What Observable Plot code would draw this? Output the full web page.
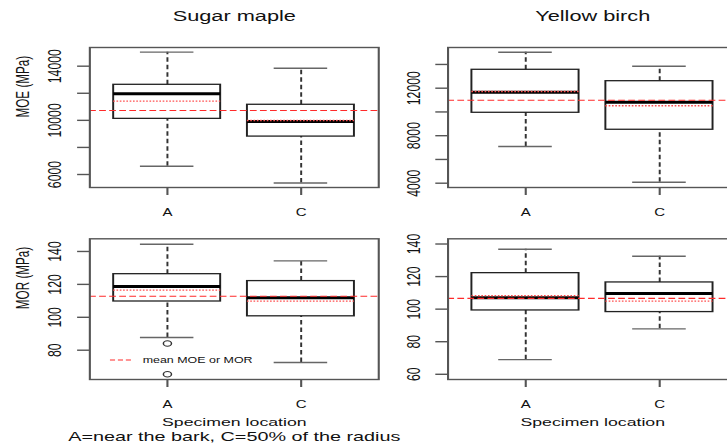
<!DOCTYPE html>
<html><head><meta charset="utf-8">
<script src="https://cdn.jsdelivr.net/npm/d3@7"></script>
<script src="https://cdn.jsdelivr.net/npm/@observablehq/plot@0.6"></script>
<style>
html,body{margin:0;padding:0;background:#fff;overflow:hidden;width:727px;height:446px;}
#stage{position:relative;width:500px;height:446px;transform:scaleX(1.5);transform-origin:0 0;}
#stage svg{position:absolute;left:0;top:0;}
</style></head><body><div id="stage"></div>
<script>
const categories = ["A", "C"];
const species = ["Sugar maple", "Yellow birch"];
const properties = ["MOE (MPa)", "MOR (MPa)"];
const xAxisTitle = "Specimen location";
const captionText = "A=near the bark, C=50% of the radius";
const legendText = "mean MOE or MOR";

// boxes per location: [lower whisker, Q1, median, Q3, upper whisker]
const moeMapleBoxes = [[6610, 10110, 11960, 12625, 15035], [5370, 8800, 9910, 11150, 13850]];
const moeMapleMeans = [11415, 9990];
const moeMapleGrandMean = 10728;
const moeMapleOutliers = [[], []];

const moeBirchBoxes = [[7090, 9930, 11660, 13550, 15030], [4080, 8500, 10820, 12590, 13850]];
const moeBirchMeans = [11720, 10520];
const moeBirchGrandMean = 10990;
const moeBirchOutliers = [[], []];

const morMapleBoxes = [[87.7, 109.6, 118.7, 126.2, 144.4], [72.5, 100.6, 111.9, 122.0, 134.3]];
const morMapleMeans = [116.5, 109.8];
const morMapleGrandMean = 112.8;
const morMapleOutliers = [[84.1, 65.4], []];

const morBirchBoxes = [[69.0, 99.2, 107.0, 122.1, 136.8], [87.9, 98.2, 109.6, 116.4, 132.5]];
const morBirchMeans = [108.3, 104.9];
const morBirchGrandMean = 106.6;
const morBirchOutliers = [[], []];

// axis limits and ticks
const moeMapleLimits = [5040, 15380];
const moeMapleTicks = [6000, 8000, 10000, 12000, 14000];
const moeMapleTickLabels = [6000, 10000, 14000];
const moeBirchLimits = [3638, 15427];
const moeBirchTicks = [4000, 6000, 8000, 10000, 12000, 14000];
const moeBirchTickLabels = [4000, 8000, 12000];
const morMapleLimits = [62.2, 147.7];
const morMapleTicks = [80, 100, 120, 140];
const morMapleTickLabels = [80, 100, 120, 140];
const morBirchLimits = [56.8, 143.2];
const morBirchTicks = [60, 80, 100, 120, 140];
const morBirchTickLabels = [60, 80, 100, 120, 140];

const W = 500, H = 446;
const FONT = "'Liberation Sans', Arial, Helvetica, sans-serif";
const n = categories.length;
const xDomain = [0.5 - 0.04 * n, n + 0.5 + 0.04 * n];

function panel(o) {
  const rows = categories.map((c, k) => {
    const b = o.boxes[k];
    return {pos: k + 1, lo: b[0], q1: b[1], med: b[2], q3: b[3], hi: b[4], mean: o.means[k]};
  });
  const outs = o.outliers.flatMap((arr, k) => arr.map(v => ({pos: k + 1, v})));
  const half = 0.4, staple = 0.2;
  const marks = [
    Plot.ruleX(rows, {x: "pos", y1: "q3", y2: "hi", stroke: "#333", strokeWidth: 1.3, strokeDasharray: "4.5,3"}),
    Plot.ruleX(rows, {x: "pos", y1: "lo", y2: "q1", stroke: "#333", strokeWidth: 1.3, strokeDasharray: "4.5,3"}),
    Plot.ruleY(rows, {y: "hi", x1: d => d.pos - staple, x2: d => d.pos + staple, stroke: "#666", strokeWidth: 1.4}),
    Plot.ruleY(rows, {y: "lo", x1: d => d.pos - staple, x2: d => d.pos + staple, stroke: "#666", strokeWidth: 1.4}),
    Plot.rect(rows, {x1: d => d.pos - half, x2: d => d.pos + half, y1: "q1", y2: "q3", fill: "none", stroke: "#222", strokeWidth: 1.3}),
    Plot.ruleY(rows, {y: "med", x1: d => d.pos - half, x2: d => d.pos + half, stroke: "#000", strokeWidth: 3}),
    Plot.dot(outs, {x: "pos", y: "v", r: 2.7, stroke: "#333", strokeWidth: 1, fill: "none"}),
    Plot.ruleY([o.grand], {stroke: "#ff2a2a", strokeWidth: 1.1, strokeDasharray: "4.5,2.2"}),
    Plot.ruleY(rows, {y: "mean", x1: d => d.pos - half, x2: d => d.pos + half, stroke: "#ff5050", strokeWidth: 1.3, strokeDasharray: "1.1,1.1"}),
    Plot.frame({stroke: "#555", strokeWidth: 1.4}),
    Plot.axisX({ticks: categories.map((c, k) => k + 1), tickFormat: i => categories[i - 1], tickSize: 8, tickPadding: 13.3,
      fontSize: 10, label: null, stroke: "#555", strokeWidth: 1.4, fill: "#111"}),
    Plot.axisY({ticks: o.ticks, tickFormat: d => o.labels.includes(d) ? String(d) : "", tickSize: 8, tickPadding: 11,
      tickRotate: -90, fontSize: 12.3, label: null, stroke: "#555", strokeWidth: 1.4, fill: "#111"})
  ];
  if (o.title) marks.push(Plot.text([o.title], {frameAnchor: "top", lineAnchor: "bottom", dy: -27, fontSize: 14.5, fill: "#111"}));
  if (o.ylabel) marks.push(Plot.text([o.ylabel], {frameAnchor: "left", rotate: -90, lineAnchor: "bottom", dx: -40.6, fontSize: 11.7, fill: "#111"}));
  if (o.xlabel) marks.push(Plot.text([o.xlabel], {frameAnchor: "bottom", lineAnchor: "bottom", dy: 46.5, fontSize: 11.8, fill: "#111"}));
  if (o.caption) marks.push(Plot.text([o.caption], {frameAnchor: "bottom", lineAnchor: "bottom", dy: 61, fontSize: 13.2, fill: "#111"}));
  if (o.legend) marks.push((index, scales, values, dims) => {
    const g = d3.create("svg:g");
    const x0 = dims.marginLeft, y0 = dims.height - dims.marginBottom - 19;
    g.append("line").attr("x1", x0 + 13.9).attr("x2", x0 + 29.5).attr("y1", y0).attr("y2", y0)
      .attr("stroke", "#ff2a2a").attr("stroke-width", 1.1).attr("stroke-dasharray", "3.4,1.9");
    g.append("text").attr("x", x0 + 35.7).attr("y", y0).attr("dy", "0.35em").attr("font-size", 8.3)
      .attr("text-anchor", "start").attr("fill", "#111").text(o.legend);
    return g.node();
  });
  return Plot.plot({
    width: W, height: H,
    marginLeft: o.left, marginRight: W - o.right, marginTop: o.top, marginBottom: H - o.bottom,
    x: {type: "linear", domain: xDomain},
    y: {domain: o.limits},
    style: {background: "transparent", overflow: "visible", fontFamily: FONT},
    marks
  });
}

const stage = document.getElementById("stage");
const L = [59.4, 252], R = [298.2, 491.1], T = [47, 187], B = [238.3, 379];
stage.append(panel({boxes: moeMapleBoxes, means: moeMapleMeans, grand: moeMapleGrandMean, outliers: moeMapleOutliers,
  limits: moeMapleLimits, ticks: moeMapleTicks, labels: moeMapleTickLabels, title: species[0], ylabel: properties[0],
  left: L[0], right: L[1], top: T[0], bottom: T[1]}));
stage.append(panel({boxes: moeBirchBoxes, means: moeBirchMeans, grand: moeBirchGrandMean, outliers: moeBirchOutliers,
  limits: moeBirchLimits, ticks: moeBirchTicks, labels: moeBirchTickLabels, title: species[1],
  left: R[0], right: R[1], top: T[0], bottom: T[1]}));
stage.append(panel({boxes: morMapleBoxes, means: morMapleMeans, grand: morMapleGrandMean, outliers: morMapleOutliers,
  limits: morMapleLimits, ticks: morMapleTicks, labels: morMapleTickLabels, ylabel: properties[1],
  xlabel: xAxisTitle, caption: captionText, legend: legendText,
  left: L[0], right: L[1], top: B[0], bottom: B[1]}));
stage.append(panel({boxes: morBirchBoxes, means: morBirchMeans, grand: morBirchGrandMean, outliers: morBirchOutliers,
  limits: morBirchLimits, ticks: morBirchTicks, labels: morBirchTickLabels, xlabel: xAxisTitle,
  left: R[0], right: R[1], top: B[0], bottom: B[1]}));
</script></body></html>
